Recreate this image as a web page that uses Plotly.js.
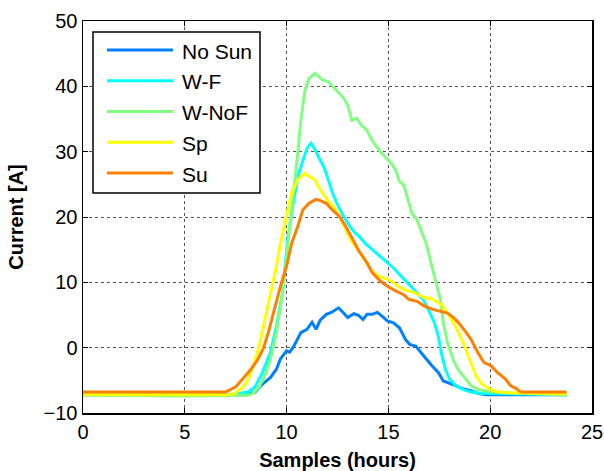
<!DOCTYPE html>
<html>
<head>
<meta charset="utf-8">
<script src="https://cdn.plot.ly/plotly-3.0.1.min.js"></script>
<style>html,body{margin:0;padding:0;background:#fff;}#chart{width:604px;height:471px;}</style>
</head>
<body>
<div id="chart"></div>
<script>
// Series names and colours
const names = ["No Sun", "W-F", "W-NoF", "Sp", "Su"];
const colors = ["#0080ff", "#00ffff", "#80ff80", "#ffff00", "#ff8000"];

// No Sun
const hoursNoSun = [0, 8.0, 8.45, 8.8, 9.2, 9.5, 9.7, 10.0, 10.15, 10.35, 10.7, 11.0, 11.25, 11.45, 11.65, 11.95, 12.2, 12.55, 12.8, 13.0, 13.3, 13.55, 13.75, 13.95, 14.2, 14.45, 14.7, 14.95, 15.25, 15.55, 15.85, 16.05, 16.35, 16.6, 16.8, 17.15, 17.45, 17.7, 18.0, 18.3, 18.65, 19.05, 19.4, 19.8, 23.75];
const currentNoSun = [-7.2, -7.2, -6.8, -5.6, -4.6, -3.3, -1.7, -0.5, -0.7, 0.2, 2.3, 2.8, 3.9, 2.8, 4.2, 5.1, 5.4, 6.1, 5.3, 4.6, 5.2, 4.9, 4.3, 5.1, 5.1, 5.4, 4.8, 4.1, 3.8, 3.0, 1.2, 0.5, 0.2, -0.8, -1.5, -2.8, -3.8, -5.1, -5.4, -5.8, -6.3, -6.6, -7.0, -7.2, -7.2];

// W-F
const hoursWF = [0, 7.3, 8.1, 8.45, 8.8, 9.2, 9.5, 9.8, 10.05, 10.35, 10.6, 10.8, 11.0, 11.2, 11.4, 11.55, 11.85, 12.05, 12.25, 12.5, 12.8, 13.1, 13.35, 13.55, 13.85, 14.1, 14.4, 14.7, 14.95, 15.25, 15.55, 15.85, 16.1, 16.4, 16.7, 16.95, 17.25, 17.45, 17.6, 17.8, 18.0, 18.3, 18.65, 19.05, 19.6, 23.75];
const currentWF = [-7.2, -7.2, -6.8, -6.0, -3.9, -0.8, 3.3, 8.4, 16.5, 22.6, 26.7, 28.7, 30.5, 31.3, 30.3, 29.3, 27.5, 25.7, 23.7, 21.9, 20.1, 18.6, 17.6, 17.1, 16.0, 15.3, 14.5, 13.7, 13.0, 12.2, 11.2, 10.2, 9.4, 8.4, 7.4, 5.9, 3.9, 1.8, -0.8, -3.3, -4.8, -5.8, -6.4, -6.8, -7.0, -7.2];

// W-NoF
const hoursWNoF = [0, 4.7, 8.1, 8.35, 8.65, 8.9, 9.2, 9.5, 9.8, 10.05, 10.35, 10.55, 10.7, 10.9, 11.1, 11.4, 11.55, 11.75, 12.05, 12.25, 12.5, 12.8, 13.0, 13.2, 13.45, 13.65, 13.95, 14.1, 14.35, 14.6, 14.9, 15.15, 15.35, 15.55, 15.75, 15.95, 16.15, 16.4, 16.6, 16.85, 17.05, 17.3, 17.55, 17.7, 17.9, 18.2, 18.45, 18.75, 19.05, 19.4, 20.0, 23.75];
const currentWNoF = [-7.2, -7.4, -7.3, -7.0, -6.0, -4.5, -1.9, 2.3, 8.4, 15.5, 23.7, 29.8, 34.8, 39.4, 41.2, 42.0, 41.6, 41.0, 40.7, 40.0, 39.2, 38.2, 37.1, 34.8, 35.1, 34.1, 33.3, 32.3, 31.0, 30.0, 29.0, 28.2, 27.2, 25.4, 24.9, 22.9, 20.6, 19.6, 18.0, 16.0, 13.5, 10.4, 7.4, 3.8, 0.8, -2.0, -3.5, -4.6, -5.8, -6.4, -6.8, -7.2];

// Sp
const hoursSp = [0, 7.3, 7.5, 7.8, 8.1, 8.35, 8.65, 8.9, 9.2, 9.5, 9.7, 10.0, 10.25, 10.55, 10.9, 11.1, 11.4, 11.55, 11.85, 12.05, 12.35, 12.6, 12.9, 13.15, 13.55, 13.95, 14.2, 14.5, 14.9, 15.15, 15.55, 15.95, 16.3, 16.6, 16.8, 17.05, 17.35, 17.6, 17.9, 18.2, 18.45, 18.75, 19.05, 19.3, 19.6, 20.0, 20.35, 20.75, 23.75];
const currentSp = [-7.2, -7.2, -6.9, -6.2, -5.0, -2.9, 0.2, 3.8, 8.4, 12.5, 16.0, 20.1, 23.7, 25.7, 26.7, 26.2, 25.7, 24.7, 23.2, 22.4, 21.4, 20.1, 18.1, 16.5, 14.8, 13.0, 11.7, 11.0, 10.5, 10.2, 9.2, 8.7, 8.4, 7.9, 7.6, 7.6, 7.1, 6.6, 5.3, 3.8, 2.3, 0.2, -2.3, -4.3, -5.6, -6.4, -6.7, -6.9, -7.1];

// Su
const hoursSu = [0, 7.0, 7.5, 7.9, 8.25, 8.55, 8.85, 9.1, 9.4, 9.7, 10.0, 10.25, 10.55, 10.8, 11.1, 11.45, 11.65, 11.95, 12.15, 12.4, 12.6, 12.9, 13.2, 13.55, 13.95, 14.2, 14.6, 14.95, 15.35, 15.75, 16.0, 16.4, 16.75, 17.15, 17.5, 17.9, 18.2, 18.45, 18.75, 19.05, 19.4, 19.7, 20.05, 20.35, 20.75, 21.0, 21.3, 21.5, 23.75];
const currentSu = [-6.8, -6.8, -6.0, -4.6, -3.3, -2.0, -0.2, 2.3, 5.9, 9.4, 12.5, 16.0, 18.6, 21.1, 22.1, 22.7, 22.5, 22.1, 21.4, 20.6, 20.1, 18.6, 16.8, 14.8, 13.0, 11.5, 10.2, 9.4, 8.7, 8.1, 7.4, 7.1, 6.4, 5.9, 5.6, 5.3, 4.6, 3.8, 2.6, 1.3, -0.8, -2.3, -2.8, -3.8, -4.8, -5.8, -6.3, -6.8, -6.8];

const xs = [hoursNoSun, hoursWF, hoursWNoF, hoursSp, hoursSu];
const ys = [currentNoSun, currentWF, currentWNoF, currentSp, currentSu];

const traces = names.map((n, i) => ({
  x: xs[i], y: ys[i], name: n, type: "scatter", mode: "lines",
  line: {color: colors[i], width: 3}, showlegend: false, hoverinfo: "skip"
}));

const FONT = "Liberation Sans, Arial, sans-serif";

// Manual MATLAB-style legend
const shapes = [];
const annotations = [];
const H = 392; // plot height px
const W = 509; // plot width px
const py = px => 1 - (px - 21) / H;
const pxx = px => (px - 83) / W;
shapes.push({type: "rect", xref: "paper", yref: "paper",
  x0: pxx(93), x1: pxx(260), y0: py(193), y1: py(32),
  line: {color: "#000", width: 1.5}, fillcolor: "#fff", layer: "above"});
names.forEach((n, i) => {
  const yy = 50 + 30.75 * i;
  shapes.push({type: "line", xref: "paper", yref: "paper",
    x0: pxx(107), x1: pxx(173), y0: py(yy), y1: py(yy),
    line: {color: colors[i], width: 3}, layer: "above"});
  annotations.push({xref: "paper", yref: "paper", x: pxx(180), y: py(yy + 1),
    xanchor: "left", yanchor: "middle", showarrow: false, text: n,
    font: {family: FONT, size: 21, color: "#000"}});
});

const layout = {
  width: 604, height: 471,
  margin: {l: 83, r: 12, t: 21, b: 58},
  paper_bgcolor: "#fff", plot_bgcolor: "#fff",
  font: {family: FONT, size: 20, color: "#000"},
  showlegend: false,
  xaxis: {
    range: [0, 25], dtick: 5, tick0: 0,
    showgrid: true, gridcolor: "#555", griddash: "dot", gridwidth: 1,
    zeroline: false, showline: true, linecolor: "#000", linewidth: 1.5,
    mirror: "ticks", ticks: "inside", ticklen: 5, tickcolor: "#000",
    tickfont: {family: FONT, size: 20, color: "#000"},
    title: {text: "<b>Samples (hours)</b>", font: {family: FONT, size: 20, color: "#000"}, standoff: 11}
  },
  yaxis: {
    range: [-10, 50], dtick: 10, tick0: 0,
    showgrid: true, gridcolor: "#555", griddash: "dot", gridwidth: 1,
    zeroline: false, showline: true, linecolor: "#000", linewidth: 1.5,
    mirror: "ticks", ticks: "inside", ticklen: 5, tickcolor: "#000",
    tickfont: {family: FONT, size: 20, color: "#000"},
    title: {text: "<b>Current [A]</b>", font: {family: FONT, size: 20, color: "#000"}, standoff: 14}
  },
  shapes: shapes,
  annotations: annotations
};

Plotly.newPlot("chart", traces, layout, {displayModeBar: false, staticPlot: true});
</script>
</body>
</html>
